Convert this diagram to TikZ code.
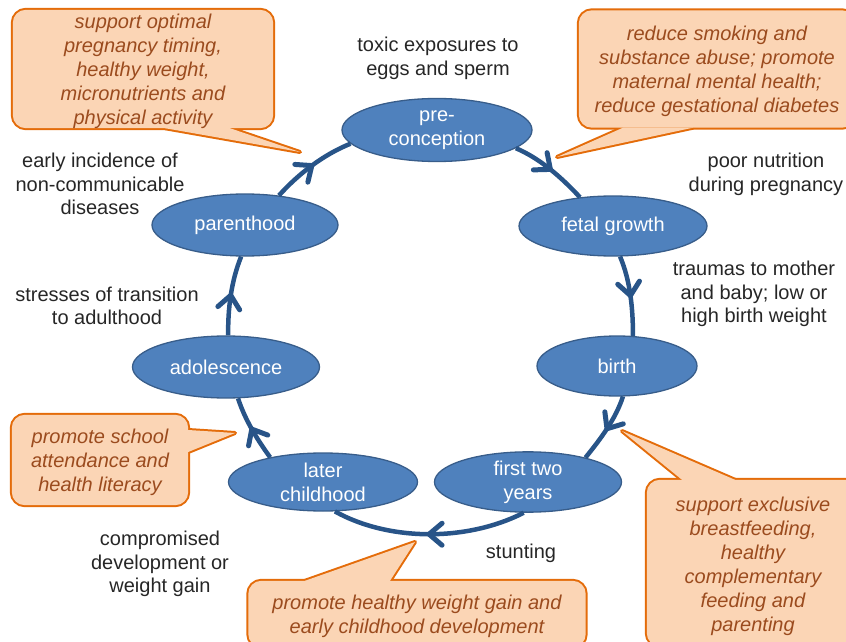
\documentclass[tikz,border=0pt]{standalone}
\usepackage{fontspec}
\setmainfont{Liberation Sans}
\usetikzlibrary{shapes.geometric,arrows.meta,decorations.markings,backgrounds,calc}
\definecolor{efill}{HTML}{4F81BD}
\definecolor{edraw}{HTML}{385D8A}
\definecolor{conn}{RGB}{40,84,136}
\definecolor{cfill}{RGB}{251,213,181}
\definecolor{cdraw}{RGB}{228,108,10}
\definecolor{ctext}{RGB}{155,75,30}
\definecolor{ltext}{RGB}{38,38,38}
\begin{document}
\begin{tikzpicture}[x=1pt,y=1pt,
 stage/.style={ellipse, fill=efill, draw=edraw, line width=1.3pt, text=white, inner sep=0pt, align=center, font=\fontsize{20}{24}\selectfont},
 lbl/.style={text=ltext, align=center, font=\fontsize{20}{23.7}\selectfont, inner sep=0pt},
 callout/.style={text=ctext, align=center, font=\fontsize{20}{24}\selectfont\itshape, inner sep=0pt},
 cyc/.style={draw=conn, line width=4.5pt, looseness=0.85, postaction={decorate},
   decoration={markings, mark=at position 0.5 with {\draw[conn, line width=5pt, line cap=round, line join=round] (-13pt,11pt) -- (0pt,0pt) -- (-13pt,-11pt);}}},
 cbstroke/.style={draw=cdraw, line width=4pt, line join=round},
 cbfill/.style={fill=cfill},
]
\useasboundingbox (0,0) rectangle (846,641);

% stages
\node[stage, minimum width=190pt, minimum height=63pt] (pre) at (437,511) {pre-\\conception};
\node[stage, minimum width=188pt, minimum height=60pt] (fetal) at (613,415) {fetal growth};
\node[stage, minimum width=160pt, minimum height=60pt] (birth) at (617,275) {birth};
\node[stage, minimum width=187pt, minimum height=58pt] (first) at (528,159) {first two\\years};
\node[stage, minimum width=189pt, minimum height=58pt] (later) at (323,159) {later\\childhood};
\node[stage, minimum width=187pt, minimum height=62pt] (adol) at (226,274) {adolescence};
\node[stage, minimum width=186pt, minimum height=62pt] (parent) at (245,416) {parenthood};

% cycle connectors
\draw[cyc] (pre.-13) to[out=-23,in=133] (fetal.139);
\draw[cyc] (fetal.-77) to[out=-67,in=90] (birth.62);
\draw[cyc] (birth.-79) to[out=-108,in=51] (first.23);
\draw[cyc] (first.-98) to[out=-153,in=-29] (later.-68);
\draw[cyc] (later.155) to[out=126,in=-72] (adol.-69);
\draw[cyc] (adol.86) to[out=91,in=-112] (parent.-97);
\draw[cyc] (parent.41) to[out=48,in=-158] (pre.189);

% risk labels
\node[lbl] (l1) at (438,583) {toxic exposures to\\eggs and sperm};
\node[lbl] (l2) at (766,467) {poor nutrition\\during pregnancy};
\node[lbl] (l3) at (754,347) {traumas to mother\\and baby; low or\\high birth weight};
\node[lbl] (l4) at (521,88) {stunting};
\node[lbl] (l5) at (160,77) {compromised\\development or\\weight gain};
\node[lbl] (l6) at (107,335) {stresses of transition\\to adulthood};
\node[lbl] (l7) at (100,457) {early incidence of\\non-communicable\\diseases};

% callouts (text nodes; boxes drawn on the background layer)
\node[callout, minimum width=260pt, minimum height=118pt] (c1) at (143,570) {support optimal\\pregnancy timing,\\healthy weight,\\micronutrients and\\physical activity};
\node[callout, minimum width=276pt, minimum height=117pt] (c2) at (717,569.5) {reduce smoking and\\substance abuse; promote\\maternal mental health;\\reduce gestational diabetes};
\node[callout, minimum width=176pt, minimum height=90pt] (c3) at (100,178.5) {promote school\\attendance and\\health literacy};
\node[callout, minimum width=212pt, minimum height=166pt] (c4) at (753,75) {support exclusive\\breastfeeding,\\healthy\\complementary\\feeding and\\parenting};
\node[callout, minimum width=337pt, minimum height=66pt] (c5) at (417,25) {promote healthy weight gain and\\early childhood development};

\coordinate (t1) at (300,489);
\coordinate (t2) at (557,484);
\coordinate (t3) at (235,208);
\coordinate (t4) at (622,210);
\coordinate (t5) at (415,99);

\begin{scope}[on background layer]
\clip (0,0) rectangle (846,641);
% callout 1
\draw[cbstroke, rounded corners=13pt] ([yshift=2pt]c1.south west) rectangle ([yshift=2pt]c1.north east);
\draw[cbstroke] ($(c1.south)+(22,2)$) -- (t1) -- ($(c1.south)+(87,2)$) -- cycle;
\fill[cbfill, rounded corners=13pt] ([yshift=2pt]c1.south west) rectangle ([yshift=2pt]c1.north east);
\fill[cbfill] ($(c1.south)+(22,2)$) -- (t1) -- ($(c1.south)+(87,2)$) -- cycle;
% callout 2
\draw[cbstroke, rounded corners=13pt] ([yshift=2.5pt]c2.south west) rectangle ([yshift=2.5pt]c2.north east);
\draw[cbstroke] ($(c2.south)+(-94,2.5)$) -- (t2) -- ($(c2.south)+(-24,2.5)$) -- cycle;
\fill[cbfill, rounded corners=13pt] ([yshift=2.5pt]c2.south west) rectangle ([yshift=2.5pt]c2.north east);
\fill[cbfill] ($(c2.south)+(-94,2.5)$) -- (t2) -- ($(c2.south)+(-24,2.5)$) -- cycle;
% callout 3
\draw[cbstroke, rounded corners=13pt] ([yshift=2.5pt]c3.south west) rectangle ([yshift=2.5pt]c3.north east);
\draw[cbstroke] ($(c3.east)+(0,32.5)$) -- (t3) -- ($(c3.east)+(0,10.5)$) -- cycle;
\fill[cbfill, rounded corners=13pt] ([yshift=2.5pt]c3.south west) rectangle ([yshift=2.5pt]c3.north east);
\fill[cbfill] ($(c3.east)+(0,32.5)$) -- (t3) -- ($(c3.east)+(0,10.5)$) -- cycle;
% callout 4
\draw[cbstroke, rounded corners=13pt] ([yshift=3pt]c4.south west) rectangle ([yshift=3pt]c4.north east);
\draw[cbstroke] ($(c4.north)+(-71,3)$) -- (t4) -- ($(c4.north)+(-18,3)$) -- cycle;
\fill[cbfill, rounded corners=13pt] ([yshift=3pt]c4.south west) rectangle ([yshift=3pt]c4.north east);
\fill[cbfill] ($(c4.north)+(-71,3)$) -- (t4) -- ($(c4.north)+(-18,3)$) -- cycle;
% callout 5
\draw[cbstroke, rounded corners=13pt] ([yshift=2pt]c5.south west) rectangle ([yshift=2pt]c5.north east);
\draw[cbstroke] ($(c5.north)+(-112,2)$) -- (t5) -- ($(c5.north)+(-27,2)$) -- cycle;
\fill[cbfill, rounded corners=13pt] ([yshift=2pt]c5.south west) rectangle ([yshift=2pt]c5.north east);
\fill[cbfill] ($(c5.north)+(-112,2)$) -- (t5) -- ($(c5.north)+(-27,2)$) -- cycle;
\end{scope}
\end{tikzpicture}
\end{document}
